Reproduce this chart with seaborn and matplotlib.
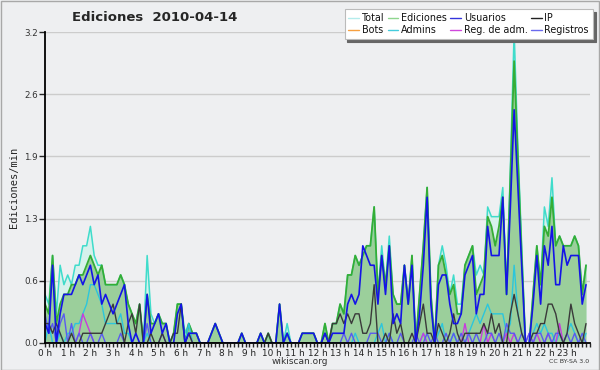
import pandas as pd
import seaborn as sns
import matplotlib.pyplot as plt
from matplotlib.lines import Line2D
from matplotlib.patches import Rectangle
from matplotlib.ticker import FixedLocator, MultipleLocator

# one value every 10 minutes, one row per hour (edits per minute)
HORAS = [h + m / 60 for h in range(24) for m in range(0, 60, 10)]
HOUR_LABELS = [f"{h} h" for h in range(24)]
Y_TICKS = [0, 0.64, 1.28, 1.92, 2.56, 3.2]

TOTAL = [
    0.5, 0.4, 0.9, 0.3, 0.8, 0.6,
    0.7, 0.6, 0.8, 0.8, 1.0, 1.0,
    1.2, 0.9, 0.8, 0.8, 0.6, 0.6,
    0.6, 0.6, 0.7, 0.6, 0.4, 0.3,
    0.2, 0.4, 0.0, 0.9, 0.3, 0.2,
    0.3, 0.2, 0.2, 0.0, 0.1, 0.4,
    0.4, 0.1, 0.2, 0.1, 0.1, 0.0,
    0.0, 0.0, 0.1, 0.2, 0.1, 0.0,
    0.0, 0.0, 0.0, 0.0, 0.1, 0.0,
    0.0, 0.0, 0.0, 0.1, 0.0, 0.1,
    0.0, 0.0, 0.4, 0.0, 0.2, 0.0,
    0.0, 0.0, 0.1, 0.1, 0.1, 0.1,
    0.0, 0.0, 0.2, 0.0, 0.2, 0.2,
    0.4, 0.3, 0.7, 0.7, 0.9, 0.8,
    0.9, 1.0, 1.0, 1.4, 0.5, 1.0,
    0.6, 1.1, 0.5, 0.4, 0.4, 0.8,
    0.4, 0.9, 0.0, 0.5, 1.0, 1.6,
    0.5, 0.0, 0.8, 1.0, 0.8, 0.5,
    0.7, 0.4, 0.4, 0.8, 0.9, 1.0,
    0.7, 0.8, 0.7, 1.4, 1.3, 1.3,
    1.3, 1.6, 0.5, 1.8, 3.2, 2.0,
    1.0, 0.0, 0.0, 0.5, 1.0, 0.6,
    1.4, 1.2, 1.7, 1.0, 1.1, 1.0,
    1.0, 1.0, 1.1, 1.0, 0.5, 0.8,
]

EDICIONES = [
    0.4, 0.3, 0.9, 0.2, 0.4, 0.5,
    0.5, 0.6, 0.6, 0.7, 0.7, 0.8,
    0.9, 0.8, 0.7, 0.8, 0.6, 0.6,
    0.6, 0.6, 0.7, 0.6, 0.4, 0.3,
    0.2, 0.4, 0.0, 0.5, 0.2, 0.2,
    0.3, 0.2, 0.2, 0.0, 0.1, 0.4,
    0.4, 0.0, 0.2, 0.1, 0.1, 0.0,
    0.0, 0.0, 0.1, 0.2, 0.1, 0.0,
    0.0, 0.0, 0.0, 0.0, 0.1, 0.0,
    0.0, 0.0, 0.0, 0.1, 0.0, 0.1,
    0.0, 0.0, 0.4, 0.0, 0.1, 0.0,
    0.0, 0.0, 0.1, 0.1, 0.1, 0.1,
    0.0, 0.0, 0.2, 0.0, 0.2, 0.2,
    0.4, 0.3, 0.7, 0.7, 0.9, 0.8,
    0.9, 1.0, 1.0, 1.4, 0.5, 0.9,
    0.6, 1.0, 0.5, 0.4, 0.4, 0.8,
    0.4, 0.9, 0.0, 0.5, 1.0, 1.6,
    0.5, 0.0, 0.8, 0.9, 0.7, 0.5,
    0.6, 0.3, 0.3, 0.8, 0.9, 1.0,
    0.5, 0.6, 0.7, 1.3, 1.2, 1.0,
    1.2, 1.5, 0.5, 1.7, 2.9, 1.9,
    0.9, 0.0, 0.0, 0.5, 1.0, 0.6,
    1.2, 1.1, 1.5, 1.0, 1.1, 1.0,
    1.0, 1.0, 1.1, 1.0, 0.5, 0.8,
]

USUARIOS = [
    0.2, 0.1, 0.8, 0.0, 0.3, 0.5,
    0.5, 0.5, 0.6, 0.7, 0.6, 0.7,
    0.8, 0.6, 0.7, 0.4, 0.5, 0.4,
    0.3, 0.4, 0.5, 0.6, 0.2, 0.0,
    0.1, 0.0, 0.0, 0.5, 0.1, 0.2,
    0.3, 0.1, 0.2, 0.0, 0.0, 0.3,
    0.4, 0.0, 0.1, 0.1, 0.1, 0.0,
    0.0, 0.0, 0.1, 0.2, 0.1, 0.0,
    0.0, 0.0, 0.0, 0.0, 0.1, 0.0,
    0.0, 0.0, 0.0, 0.1, 0.0, 0.0,
    0.0, 0.0, 0.4, 0.0, 0.1, 0.0,
    0.0, 0.0, 0.1, 0.1, 0.1, 0.1,
    0.0, 0.0, 0.1, 0.0, 0.1, 0.1,
    0.1, 0.1, 0.4, 0.5, 0.4, 0.5,
    1.0, 0.9, 0.8, 0.8, 0.4, 0.9,
    0.5, 1.0, 0.2, 0.3, 0.2, 0.8,
    0.4, 0.8, 0.0, 0.3, 0.8, 1.5,
    0.4, 0.0, 0.6, 0.7, 0.7, 0.4,
    0.2, 0.2, 0.3, 0.7, 0.8, 0.9,
    0.3, 0.5, 0.5, 1.2, 0.9, 0.9,
    0.9, 1.5, 0.5, 1.4, 2.4, 1.6,
    0.8, 0.0, 0.0, 0.4, 0.9, 0.4,
    1.0, 0.8, 1.2, 0.6, 0.6, 1.0,
    0.8, 0.9, 0.9, 0.9, 0.4, 0.6,
]

IP = [
    0.2, 0.2, 0.1, 0.2, 0.1, 0.0,
    0.0, 0.1, 0.0, 0.0, 0.1, 0.1,
    0.1, 0.1, 0.1, 0.1, 0.2, 0.3,
    0.4, 0.2, 0.2, 0.0, 0.2, 0.3,
    0.1, 0.4, 0.0, 0.0, 0.1, 0.0,
    0.0, 0.1, 0.0, 0.0, 0.1, 0.1,
    0.4, 0.0, 0.1, 0.0, 0.0, 0.0,
    0.0, 0.0, 0.0, 0.0, 0.0, 0.0,
    0.0, 0.0, 0.0, 0.0, 0.0, 0.0,
    0.0, 0.0, 0.0, 0.0, 0.0, 0.1,
    0.0, 0.0, 0.0, 0.0, 0.0, 0.0,
    0.0, 0.0, 0.0, 0.0, 0.0, 0.0,
    0.0, 0.0, 0.1, 0.0, 0.2, 0.2,
    0.3, 0.2, 0.3, 0.2, 0.3, 0.3,
    0.1, 0.1, 0.2, 0.6, 0.0, 0.0,
    0.1, 0.0, 0.3, 0.1, 0.2, 0.0,
    0.0, 0.1, 0.0, 0.2, 0.4, 0.1,
    0.1, 0.0, 0.2, 0.1, 0.0, 0.1,
    0.3, 0.1, 0.0, 0.1, 0.1, 0.1,
    0.1, 0.1, 0.2, 0.1, 0.3, 0.1,
    0.2, 0.0, 0.0, 0.3, 0.5, 0.3,
    0.1, 0.0, 0.0, 0.1, 0.1, 0.2,
    0.2, 0.4, 0.4, 0.3, 0.1, 0.0,
    0.1, 0.4, 0.2, 0.1, 0.0, 0.2,
]

BOTS = [0.0] * 144

ADMINS = [
    0.0, 0.2, 0.0, 0.0, 0.1, 0.0,
    0.1, 0.1, 0.2, 0.2, 0.3, 0.4,
    0.6, 0.6, 0.5, 0.4, 0.2, 0.2,
    0.2, 0.2, 0.3, 0.1, 0.1, 0.0,
    0.0, 0.0, 0.0, 0.1, 0.0, 0.0,
    0.0, 0.0, 0.0, 0.0, 0.0, 0.0,
    0.0, 0.0, 0.2, 0.0, 0.0, 0.0,
    0.0, 0.0, 0.0, 0.0, 0.0, 0.0,
    0.0, 0.0, 0.0, 0.0, 0.0, 0.0,
    0.0, 0.0, 0.0, 0.0, 0.0, 0.0,
    0.0, 0.0, 0.0, 0.0, 0.1, 0.0,
    0.0, 0.0, 0.0, 0.0, 0.0, 0.0,
    0.0, 0.0, 0.1, 0.0, 0.0, 0.0,
    0.0, 0.0, 0.0, 0.0, 0.1, 0.0,
    0.0, 0.0, 0.0, 0.0, 0.1, 0.2,
    0.0, 0.1, 0.0, 0.0, 0.0, 0.0,
    0.0, 0.0, 0.0, 0.0, 0.1, 0.0,
    0.0, 0.0, 0.1, 0.2, 0.0, 0.0,
    0.1, 0.0, 0.0, 0.0, 0.1, 0.2,
    0.3, 0.2, 0.3, 0.4, 0.3, 0.3,
    0.3, 0.3, 0.1, 0.2, 0.8, 0.3,
    0.1, 0.0, 0.0, 0.1, 0.2, 0.1,
    0.2, 0.1, 0.1, 0.0, 0.1, 0.0,
    0.1, 0.2, 0.1, 0.0, 0.0, 0.1,
]

REG_ADM = [
    0.0, 0.0, 0.0, 0.0, 0.0, 0.0,
    0.0, 0.0, 0.0, 0.1, 0.3, 0.2,
    0.1, 0.0, 0.0, 0.0, 0.0, 0.0,
    0.0, 0.0, 0.0, 0.0, 0.0, 0.0,
    0.0, 0.0, 0.0, 0.0, 0.0, 0.0,
    0.0, 0.0, 0.0, 0.0, 0.0, 0.0,
    0.0, 0.0, 0.0, 0.0, 0.0, 0.0,
    0.0, 0.0, 0.0, 0.0, 0.0, 0.0,
    0.0, 0.0, 0.0, 0.0, 0.0, 0.0,
    0.0, 0.0, 0.0, 0.0, 0.0, 0.0,
    0.0, 0.0, 0.0, 0.0, 0.0, 0.0,
    0.0, 0.0, 0.0, 0.0, 0.0, 0.0,
    0.0, 0.0, 0.0, 0.0, 0.0, 0.0,
    0.0, 0.0, 0.0, 0.0, 0.0, 0.0,
    0.0, 0.0, 0.0, 0.0, 0.0, 0.0,
    0.0, 0.0, 0.0, 0.0, 0.0, 0.0,
    0.0, 0.0, 0.0, 0.0, 0.1, 0.0,
    0.0, 0.0, 0.0, 0.0, 0.0, 0.0,
    0.0, 0.0, 0.0, 0.2, 0.0, 0.0,
    0.0, 0.0, 0.2, 0.0, 0.1, 0.0,
    0.0, 0.0, 0.1, 0.0, 0.1, 0.0,
    0.0, 0.0, 0.1, 0.0, 0.1, 0.0,
    0.0, 0.1, 0.0, 0.0, 0.2, 0.0,
    0.0, 0.0, 0.0, 0.0, 0.0, 0.0,
]

REGISTROS = [
    0.3, 0.1, 0.2, 0.0, 0.2, 0.3,
    0.0, 0.2, 0.0, 0.1, 0.0, 0.0,
    0.1, 0.0, 0.0, 0.1, 0.0, 0.0,
    0.0, 0.0, 0.1, 0.0, 0.0, 0.0,
    0.0, 0.0, 0.0, 0.2, 0.0, 0.0,
    0.0, 0.1, 0.0, 0.0, 0.0, 0.0,
    0.0, 0.0, 0.1, 0.0, 0.0, 0.0,
    0.0, 0.0, 0.0, 0.0, 0.0, 0.0,
    0.0, 0.0, 0.0, 0.0, 0.0, 0.0,
    0.0, 0.0, 0.0, 0.0, 0.0, 0.0,
    0.0, 0.0, 0.0, 0.0, 0.0, 0.0,
    0.0, 0.0, 0.0, 0.0, 0.0, 0.0,
    0.0, 0.0, 0.0, 0.0, 0.0, 0.0,
    0.0, 0.1, 0.0, 0.1, 0.0, 0.0,
    0.0, 0.0, 0.1, 0.1, 0.1, 0.0,
    0.0, 0.1, 0.0, 0.0, 0.1, 0.0,
    0.0, 0.0, 0.1, 0.0, 0.0, 0.1,
    0.0, 0.1, 0.0, 0.0, 0.1, 0.0,
    0.1, 0.0, 0.1, 0.0, 0.1, 0.0,
    0.1, 0.0, 0.0, 0.1, 0.1, 0.0,
    0.1, 0.0, 0.2, 0.1, 0.1, 0.0,
    0.1, 0.0, 0.1, 0.0, 0.1, 0.1,
    0.0, 0.1, 0.0, 0.1, 0.1, 0.0,
    0.1, 0.0, 0.1, 0.0, 0.1, 0.0,
]

COLORS = {
    "Total": "#3fdccb",
    "Ediciones": "#35ad35",
    "Usuarios": "#1414e6",
    "IP": "#3a3a3a",
    "Bots": "#ff9a33",
    "Admins": "#2cc6dc",
    "Reg. de adm.": "#c83cdc",
    "Registros": "#5a5af0",
}
LEGEND_COLORS = {
    "Total": "#b4ecec",
    "Ediciones": "#8ed68e",
    "Usuarios": "#3434dc",
    "IP": "#222222",
    "Bots": "#f7a040",
    "Admins": "#44ccdd",
    "Reg. de adm.": "#d048dc",
    "Registros": "#6a6aee",
}

df = pd.DataFrame({
    "hora": HORAS,
    "Total": TOTAL,
    "Ediciones": EDICIONES,
    "Usuarios": USUARIOS,
    "IP": IP,
    "Bots": BOTS,
    "Admins": ADMINS,
    "Reg. de adm.": REG_ADM,
    "Registros": REGISTROS,
})
long_df = df.melt(id_vars="hora", var_name="serie", value_name="ed_min")

sns.set_style("ticks")
BG = "#eeeff1"
plt.rcParams["font.family"] = ["DejaVu Sans"]

fig, ax = plt.subplots(figsize=(6, 3.7), dpi=100)
fig.patch.set_facecolor(BG)
ax.set_facecolor(BG)
fig.subplots_adjust(left=0.075, right=0.983, bottom=0.073, top=0.9135)

# filled areas first
ax.fill_between(df["hora"], df["Total"], color="#d6f1ec", lw=0, zorder=1)
ax.fill_between(df["hora"], df["Ediciones"], color="#9bcf9b", lw=0, zorder=2)

draw_order = ["Total", "Ediciones", "Bots", "Admins", "Reg. de adm.",
              "Registros", "IP", "Usuarios"]
widths = {"Total": 1.1, "Ediciones": 1.3, "Usuarios": 1.2}
for i, name in enumerate(draw_order):
    sns.lineplot(
        data=long_df[long_df["serie"] == name],
        x="hora", y="ed_min",
        color=COLORS[name],
        lw=widths.get(name, 1.0),
        estimator=None,
        legend=False,
        ax=ax,
        zorder=3 + i,
    )

ax.set_xlim(0, 24)
ax.set_ylim(0, 3.2)
ax.yaxis.set_major_locator(FixedLocator(Y_TICKS))
ax.set_yticklabels([f"{v:.1f}" for v in Y_TICKS], fontsize=6.3, color="#333333")
ax.set_xticks(range(24))
ax.set_xticklabels(HOUR_LABELS, fontsize=6.4, color="#222222")
ax.xaxis.set_minor_locator(MultipleLocator(1 / 6))
ax.tick_params(axis="x", which="both", direction="out", length=3, width=1, pad=1)
ax.tick_params(axis="y", direction="out", length=4, width=1, pad=1)
ax.grid(axis="y", color="#cccccc", lw=1)
ax.set_axisbelow(True)
for s in ["top", "right"]:
    ax.spines[s].set_visible(False)
for s in ["left", "bottom"]:
    ax.spines[s].set_color("black")
    ax.spines[s].set_linewidth(1.3)
    ax.spines[s].set_zorder(20)

ax.set_xlabel("")
ax.set_ylabel("Ediciones/min", fontsize=7.5, family="DejaVu Sans Mono", labelpad=4)

fig.text(0.258, 0.952, "Ediciones  2010-04-14", fontsize=9.5, fontweight="bold",
         ha="center", va="center")
fig.text(0.5, 0.022, "wikiscan.org", fontsize=6.5, color="#333333",
         ha="center", va="center")
fig.text(0.982, 0.022, "CC BY-SA 3.0", fontsize=4.5, color="#333333",
         ha="right", va="center")

legend_order = ["Total", "Bots", "Ediciones", "Admins", "Usuarios",
                "Reg. de adm.", "IP", "Registros"]
handles = [Line2D([], [], color=LEGEND_COLORS[n], lw=1) for n in legend_order]
leg = fig.legend(handles, legend_order, ncol=4, loc="upper right",
                 bbox_to_anchor=(0.988, 0.975), fontsize=6.9, frameon=True,
                 fancybox=False, shadow={"color": "#666666", "alpha": 1},
                 handlelength=1.1, handletextpad=0.3, columnspacing=0.35,
                 labelspacing=0.25, borderpad=0.4, borderaxespad=0)
leg.get_frame().set_facecolor("white")
leg.get_frame().set_edgecolor("#bbbbbb")
leg.get_frame().set_linewidth(0.8)
for t in leg.get_texts():
    t.set_color("#111111")

fig.patches.append(Rectangle((0.001, 0.001), 0.998, 0.997, transform=fig.transFigure,
                             fill=False, edgecolor="#a8a8a8", lw=1))

fig.savefig("out.png", dpi=100, facecolor=BG)
